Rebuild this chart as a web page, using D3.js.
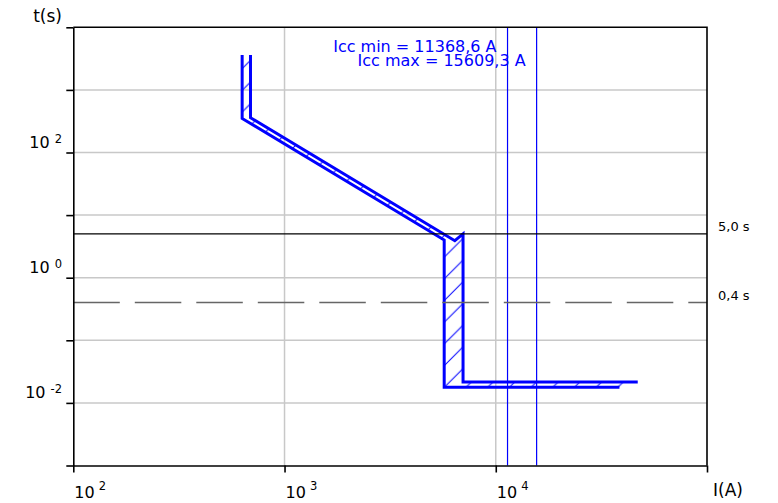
<!DOCTYPE html>
<html>
<head>
<meta charset="utf-8">
<script src="https://cdn.jsdelivr.net/npm/d3@7"></script>
<style>
  body { margin: 0; background: #fff; }
  svg { display: block; }
  text { font-family: "DejaVu Sans", Verdana, sans-serif; }
</style>
</head>
<body>
<svg id="chart" width="778" height="503"></svg>
<script>
// Tripping band of the breaker: [current (A), time (s)]
const maxCurve = [[690, 3600], [690, 360], [6400, 3.9], [7000, 5], [7000, 0.0215], [47000, 0.0215]];
const minCurve = [[630, 3600], [630, 350], [5700, 4.0], [5700, 0.0178], [38500, 0.0178]];

// Prospective short-circuit currents
const iccLabels = ["Icc min = 11368,6 A", "Icc max = 15609,3 A"];
const iccValues = [11368.6, 15609.3];

// Disconnection time limits
const limitLabels = ["5,0 s", "0,4 s"];
const limitValues = [5.0, 0.4];
const limitDashed = [false, true];

// Axes
const xTicks = [1e2, 1e3, 1e4, 1e5];
const xLabelTicks = [1e2, 1e3, 1e4];
const xLabelExps = ["2", "3", "4"];
const yTicks = [1e-3, 1e-2, 1e-1, 1e0, 1e1, 1e2, 1e3, 1e4];
const yLabelTicks = [1e2, 1e0, 1e-2];
const yLabelExps = ["2", "0", "-2"];

const svg = d3.select("#chart");
const plotLeft = 73.3, plotRight = 707, plotTop = 27.3, plotBottom = 465.5;

const x = d3.scaleLog().domain([1e2, 1e5]).range([plotLeft, plotRight]);
const y = d3.scaleLog().domain([1e-3, 1e4]).range([plotBottom, plotTop]);

const blue = "#0000ff";

// hatch pattern for the band between the two curves
const defs = svg.append("defs");
const hs = 21.7;
defs.append("pattern")
  .attr("id", "hatch")
  .attr("patternUnits", "userSpaceOnUse")
  .attr("width", hs).attr("height", hs)
  .attr("patternTransform", "translate(7,0)")
  .append("path")
  .attr("d", `M0,${hs} L${hs},0 M${-2},2 L2,${-2} M${hs - 2},${hs + 2} L${hs + 2},${hs - 2}`)
  .attr("stroke", blue).attr("stroke-width", 1).attr("fill", "none");

// grid
const grid = svg.append("g");
grid.selectAll("line.gy")
  .data(yTicks.filter(d => d > 1e-3 && d < 1e4))
  .join("line")
  .attr("class", "gy")
  .attr("x1", plotLeft).attr("x2", plotRight)
  .attr("y1", d => y(d)).attr("y2", d => y(d))
  .attr("stroke", "#c8c8c8").attr("stroke-width", 1.5);
grid.selectAll("line.gx")
  .data(xTicks.filter(d => d > 1e2 && d < 1e5))
  .join("line")
  .attr("class", "gx")
  .attr("x1", d => x(d)).attr("x2", d => x(d))
  .attr("y1", plotTop).attr("y2", plotBottom)
  .attr("stroke", "#c8c8c8").attr("stroke-width", 1.5);

// short-circuit current lines
const icc = svg.append("g");
icc.selectAll("line")
  .data(iccValues)
  .join("line")
  .attr("x1", d => x(d)).attr("x2", d => x(d))
  .attr("y1", plotTop).attr("y2", plotBottom)
  .attr("stroke", blue).attr("stroke-width", 1.2);
icc.selectAll("text")
  .data(iccValues)
  .join("text")
  .attr("x", d => x(d) - 11)
  .attr("y", (d, i) => 52 + i * 14)
  .attr("text-anchor", "end")
  .attr("fill", blue)
  .attr("font-size", 16)
  .text((d, i) => iccLabels[i]);

// tripping band
const line = d3.line().x(d => x(d[0])).y(d => y(d[1]));
const band = maxCurve.concat(minCurve.slice().reverse());
svg.append("path")
  .attr("d", line(band) + "Z")
  .attr("fill", "url(#hatch)")
  .attr("stroke", "none");
svg.selectAll("path.curve")
  .data([maxCurve, minCurve])
  .join("path")
  .attr("class", "curve")
  .attr("d", line)
  .attr("fill", "none")
  .attr("stroke", blue)
  .attr("stroke-width", 3)
  .attr("stroke-linejoin", "miter");

// time limits
const limits = svg.append("g");
limits.selectAll("line")
  .data(limitValues)
  .join("line")
  .attr("x1", plotLeft).attr("x2", plotRight)
  .attr("y1", d => y(d)).attr("y2", d => y(d))
  .attr("stroke", (d, i) => limitDashed[i] ? "#666" : "#000")
  .attr("stroke-width", (d, i) => limitDashed[i] ? 1.5 : 1.2)
  .attr("stroke-dasharray", (d, i) => limitDashed[i] ? "46.5,15" : null);
limits.selectAll("text")
  .data(limitValues)
  .join("text")
  .attr("x", 718)
  .attr("y", d => y(d) - 2.5)
  .attr("font-size", 13)
  .attr("fill", "#000")
  .text((d, i) => limitLabels[i]);

// axes
const axisStyle = g => {
  g.select(".domain").attr("stroke", "#000").attr("stroke-width", 1.6);
  g.selectAll(".tick line").attr("stroke", "#000").attr("stroke-width", 1.6);
};
svg.append("g")
  .attr("transform", `translate(0,${plotBottom})`)
  .call(d3.axisBottom(x).tickValues(xTicks).tickSize(7).tickSizeOuter(0).tickFormat(""))
  .call(axisStyle);
svg.append("g")
  .attr("transform", `translate(${plotLeft},0)`)
  .call(d3.axisLeft(y).tickValues(yTicks).tickSize(7).tickSizeOuter(0).tickFormat(""))
  .call(axisStyle);

// frame top and right
svg.append("path")
  .attr("d", `M${plotLeft},${plotTop} H${plotRight} V${plotBottom}`)
  .attr("fill", "none").attr("stroke", "#000").attr("stroke-width", 1.6);

// tick labels with exponents
const yl = svg.append("g").selectAll("text")
  .data(yLabelTicks)
  .join("text")
  .attr("x", 62)
  .attr("y", d => y(d) - 4.5)
  .attr("text-anchor", "end")
  .attr("font-size", 16)
  .attr("fill", "#000");
yl.append("tspan").text("10");
yl.append("tspan")
  .attr("dx", 5).attr("dy", -5).attr("font-size", 11.5)
  .text((d, i) => yLabelExps[i]);

const xl = svg.append("g").selectAll("text")
  .data(xLabelTicks)
  .join("text")
  .attr("x", d => x(d) + 1)
  .attr("y", 498)
  .attr("font-size", 16)
  .attr("fill", "#000");
xl.append("tspan").text("10");
xl.append("tspan")
  .attr("dx", 4).attr("dy", -8).attr("font-size", 11.5)
  .text((d, i) => xLabelExps[i]);

// axis titles
svg.append("text")
  .attr("x", 62).attr("y", 22)
  .attr("text-anchor", "end")
  .attr("font-size", 17)
  .text("t(s)");
svg.append("text")
  .attr("x", 713).attr("y", 496)
  .attr("font-size", 17)
  .text("I(A)");
</script>
</body>
</html>
